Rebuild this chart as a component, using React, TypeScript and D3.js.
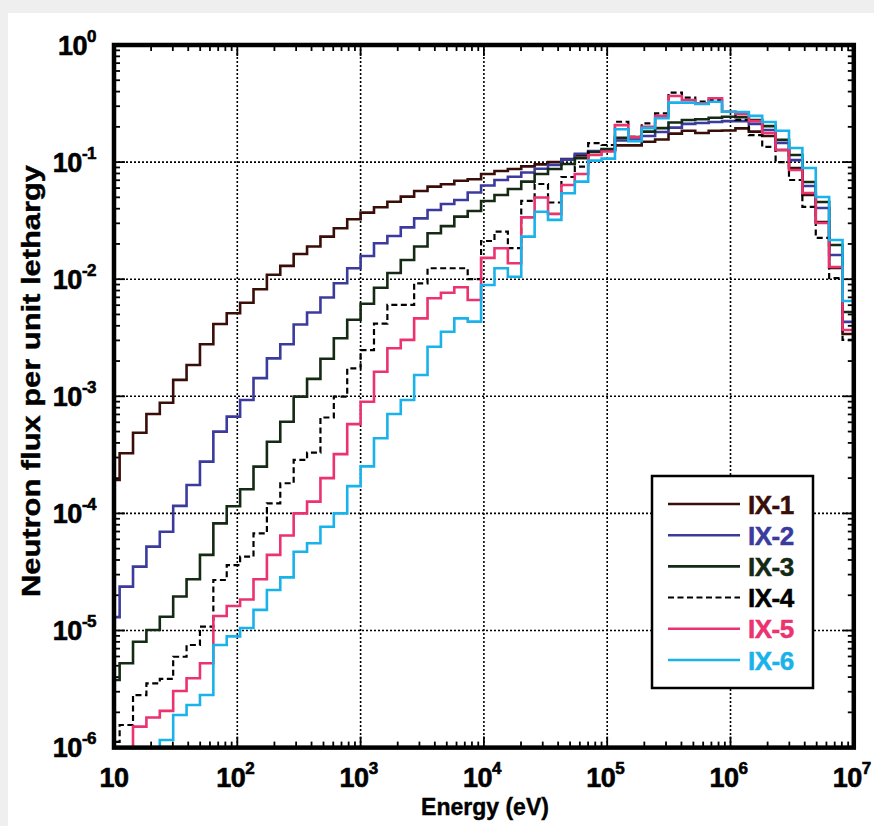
import React from 'react';
import * as d3 from 'd3';

// Energy group boundaries (eV), equal-lethargy bins
const EDGES = [8.652, 11.109, 14.264, 18.316, 23.518, 30.197, 38.774, 49.787, 63.928, 82.085, 105.40, 135.34, 173.77, 223.13, 286.50, 367.88, 472.37, 606.53, 778.80,
  1000, 1284.0, 1648.7, 2117.0, 2718.3, 3490.3, 4481.7, 5754.6, 7389.1, 9487.7,
  12182.5, 15642.6, 20085.5, 25790.3, 33115.5, 42521.1, 54598.2, 70105.4, 90017.1, 115584,
  148413, 190566, 244692, 314191, 403429, 518013, 665142, 854059, 1096633, 1408105,
  1808042, 2321572, 2980958, 3827626, 4914769, 6310688, 8103084, 10404566];

const IX1 = [1.93e-4, 3.26e-4, 4.89e-4, 7.06e-4, 8.81e-4, 1.38e-3, 1.85e-3, 2.78e-3, 4.14e-3, 5.12e-3, 6.30e-3, 8.20e-3, 1.09e-2, 1.30e-2, 1.64e-2, 1.90e-2, 2.31e-2, 2.72e-2, 3.25e-2,
  3.70e-2, 4.11e-2, 4.59e-2, 5.07e-2, 5.66e-2, 6.17e-2, 6.46e-2, 6.93e-2, 7.13e-2, 7.91e-2,
  8.39e-2, 8.73e-2, 9.20e-2, 9.57e-2, 0.100, 0.106, 0.114, 0.123, 0.127, 0.139,
  0.139, 0.149, 0.156, 0.175, 0.185, 0.177, 0.185, 0.186, 0.194, 0.182,
  0.167, 0.127, 8.91e-2, 5.24e-2, 3.08e-2, 1.25e-2, 3.40e-3];

const IX2 = [1.30e-5, 2.37e-5, 3.51e-5, 5.20e-5, 6.98e-5, 1.16e-4, 1.75e-4, 2.77e-4, 4.99e-4, 6.70e-4, 9.29e-4, 1.43e-3, 2.11e-3, 2.78e-3, 4.10e-3, 5.20e-3, 6.98e-3, 9.23e-3, 1.24e-2,
  1.58e-2, 2.03e-2, 2.34e-2, 2.77e-2, 3.31e-2, 3.90e-2, 4.39e-2, 4.74e-2, 5.50e-2, 6.31e-2,
  7.03e-2, 7.50e-2, 8.15e-2, 8.77e-2, 9.44e-2, 0.105, 0.118, 0.124, 0.127, 0.153,
  0.156, 0.167, 0.181, 0.197, 0.212, 0.216, 0.220, 0.224, 0.224, 0.212,
  0.188, 0.146, 0.104, 6.25e-2, 4.06e-2, 1.61e-2, 4.32e-3];

const IX3 = [3.78e-6, 5.25e-6, 8.02e-6, 1.01e-5, 1.31e-5, 1.95e-5, 2.74e-5, 4.42e-5, 8.22e-5, 1.15e-4, 1.61e-4, 2.51e-4, 4.09e-4, 6.07e-4, 9.93e-4, 1.41e-3, 2.09e-3, 3.13e-3, 4.51e-3,
  6.18e-3, 8.45e-3, 1.13e-2, 1.46e-2, 1.90e-2, 2.47e-2, 2.84e-2, 3.42e-2, 3.82e-2, 4.66e-2,
  5.24e-2, 5.89e-2, 6.81e-2, 7.91e-2, 8.73e-2, 9.64e-2, 0.108, 0.122, 0.129, 0.161,
  0.164, 0.182, 0.195, 0.218, 0.229, 0.232, 0.239, 0.244, 0.242, 0.229,
  0.203, 0.155, 0.115, 6.76e-2, 4.56e-2, 1.96e-2, 5.25e-3];

const IX4 = [1.12e-6, 1.56e-6, 2.81e-6, 3.54e-6, 3.86e-6, 5.97e-6, 7.52e-6, 1.08e-5, 2.70e-5, 3.62e-5, 4.27e-5, 6.76e-5, 1.22e-4, 1.81e-4, 2.86e-4, 3.31e-4, 6.59e-4, 9.93e-4, 1.73e-3,
  2.48e-3, 4.17e-3, 6.03e-3, 6.03e-3, 9.23e-3, 1.24e-2, 1.24e-2, 1.24e-2, 1.00e-2, 2.12e-2,
  2.55e-2, 1.84e-2, 4.66e-2, 6.50e-2, 4.52e-2, 7.46e-2, 9.14e-2, 0.145, 0.140, 0.221,
  0.164, 0.214, 0.261, 0.392, 0.356, 0.329, 0.339, 0.268, 0.229, 0.170,
  0.135, 0.100, 7.03e-2, 4.14e-2, 2.25e-2, 1.02e-2, 3.03e-3];

const IX5 = [7e-7, 7e-7, 1.51e-6, 1.81e-6, 2.06e-6, 3.04e-6, 3.91e-6, 5.25e-6, 1.33e-5, 1.62e-5, 1.84e-5, 2.74e-5, 4.42e-5, 6.47e-5, 1.00e-4, 1.26e-4, 2.00e-4, 3.21e-4, 5.79e-4,
  8.99e-4, 1.62e-3, 2.57e-3, 3.03e-3, 4.63e-3, 6.87e-3, 7.67e-3, 8.53e-3, 6.64e-3, 1.52e-2,
  1.84e-2, 1.37e-2, 3.37e-2, 4.99e-2, 3.61e-2, 6.37e-2, 7.91e-2, 0.115, 0.123, 0.207,
  0.163, 0.200, 0.248, 0.367, 0.339, 0.318, 0.351, 0.269, 0.258, 0.224,
  0.177, 0.127, 8.57e-2, 5.45e-2, 3.02e-2, 1.27e-2, 3.68e-3];

const IX6 = [7e-7, 7e-7, 7e-7, 7e-7, 1.16e-6, 1.90e-6, 2.31e-6, 2.81e-6, 7.52e-6, 8.91e-6, 1.05e-5, 1.50e-5, 2.22e-5, 2.84e-5, 4.71e-5, 5.56e-5, 7.69e-5, 1.00e-4, 1.71e-4,
  2.52e-4, 4.38e-4, 7.06e-4, 9.29e-4, 1.52e-3, 2.65e-3, 3.56e-3, 4.63e-3, 4.34e-3, 8.91e-3,
  1.24e-2, 1.05e-2, 2.31e-2, 3.77e-2, 3.21e-2, 5.42e-2, 6.81e-2, 0.103, 0.107, 0.191,
  0.151, 0.195, 0.237, 0.322, 0.322, 0.313, 0.328, 0.269, 0.268, 0.248,
  0.220, 0.185, 0.132, 8.91e-2, 5.03e-2, 2.16e-2, 6.52e-3];

const SERIES_NAMES = ['IX-1', 'IX-2', 'IX-3', 'IX-4', 'IX-5', 'IX-6'];
const SERIES_DATA = [IX1, IX2, IX3, IX4, IX5, IX6];
const SERIES_COLORS = ['#3a0e08', '#3b3b9e', '#142a14', '#000000', '#ea336f', '#19b2ea'];
const SERIES_DASH = [null, null, null, '6,3.5', null, null];

const X_EXPONENTS = [1, 2, 3, 4, 5, 6, 7];
const Y_EXPONENTS = [0, -1, -2, -3, -4, -5, -6];

const FONT = '"Liberation Sans", Arial, Helvetica, sans-serif';

export default function App() {
  const W = 874, H = 826;
  const x0 = 114, x1 = 853.8, y0 = 45, y1 = 747.6;
  const x = d3.scaleLog().domain([10, 1e7]).range([x0, x1]);
  const y = d3.scaleLog().domain([1e-6, 1]).range([y1, y0]);

  const line = d3.line<[number, number]>().x(d => x(d[0])).y(d => y(d[1]));
  const stepPath = (vals: number[]) => {
    const pts: [number, number][] = [];
    vals.forEach((v, i) => {
      pts.push([EDGES[i], v]);
      pts.push([EDGES[i + 1], v]);
    });
    return line(pts) || '';
  };

  const xMinor: number[] = [];
  for (let e = 1; e < 7; e++) for (let m = 2; m <= 9; m++) xMinor.push(m * Math.pow(10, e));
  const yMinor: number[] = [];
  for (let e = -6; e < 0; e++) for (let m = 2; m <= 9; m++) yMinor.push(m * Math.pow(10, e));

  const minorLen = 6, majorLen = 11;

  const legendX = 652, legendY = 476, legendW = 161, legendH = 212;
  const rowY = (i: number) => legendY + 28 + i * 31.2;

  const heavy = { stroke: '#000', strokeWidth: 0.6 } as const;

  return (
    <svg width={W} height={H} style={{ position: 'absolute', left: 0, top: 0 }} fontFamily={FONT}>
      <rect x={0} y={0} width={W} height={H} fill="#efefef" />
      <rect x={8} y={13} width={W - 8} height={H - 13} fill="#ffffff" />
      <defs>
        <clipPath id="plotClip">
          <rect x={x0} y={y0} width={x1 - x0} height={y1 - y0} />
        </clipPath>
      </defs>

      {/* grid */}
      <g stroke="#000" strokeWidth={1.6} strokeDasharray="2,2">
        {X_EXPONENTS.slice(1, -1).map(e => (
          <line key={'gx' + e} x1={x(Math.pow(10, e))} x2={x(Math.pow(10, e))} y1={y0} y2={y1} />
        ))}
        {Y_EXPONENTS.slice(1, -1).map(e => (
          <line key={'gy' + e} x1={x0} x2={x1} y1={y(Math.pow(10, e))} y2={y(Math.pow(10, e))} />
        ))}
      </g>

      {/* ticks */}
      <g stroke="#000" strokeWidth={1.8}>
        {xMinor.map((v, i) => (
          <g key={'xm' + i}>
            <line x1={x(v)} x2={x(v)} y1={y1} y2={y1 - minorLen} />
            <line x1={x(v)} x2={x(v)} y1={y0} y2={y0 + minorLen} />
          </g>
        ))}
        {X_EXPONENTS.map(e => (
          <g key={'xM' + e}>
            <line x1={x(Math.pow(10, e))} x2={x(Math.pow(10, e))} y1={y1} y2={y1 - majorLen} />
            <line x1={x(Math.pow(10, e))} x2={x(Math.pow(10, e))} y1={y0} y2={y0 + majorLen} />
          </g>
        ))}
        {yMinor.map((v, i) => (
          <g key={'ym' + i}>
            <line x1={x0} x2={x0 + minorLen} y1={y(v)} y2={y(v)} />
            <line x1={x1} x2={x1 - minorLen} y1={y(v)} y2={y(v)} />
          </g>
        ))}
        {Y_EXPONENTS.map(e => (
          <g key={'yM' + e}>
            <line x1={x0} x2={x0 + majorLen} y1={y(Math.pow(10, e))} y2={y(Math.pow(10, e))} />
            <line x1={x1} x2={x1 - majorLen} y1={y(Math.pow(10, e))} y2={y(Math.pow(10, e))} />
          </g>
        ))}
      </g>

      {/* series */}
      <g clipPath="url(#plotClip)" fill="none" strokeLinejoin="miter" strokeLinecap="butt">
        {SERIES_DATA.map((vals, i) => (
          <path key={SERIES_NAMES[i]} d={stepPath(vals)} stroke={SERIES_COLORS[i]}
            strokeWidth={i === 3 ? 2.2 : 2.6} strokeDasharray={SERIES_DASH[i] || undefined} />
        ))}
      </g>

      {/* frame */}
      <rect x={x0} y={y0} width={x1 - x0} height={y1 - y0} fill="none" stroke="#000" strokeWidth={4.5} />

      {/* y tick labels */}
      {Y_EXPONENTS.map(e => (
        <text key={'yl' + e} x={96} y={y(Math.pow(10, e)) + 9.5} textAnchor="end" fontWeight="bold" fontSize={27} fill="#000" letterSpacing={-0.5} {...heavy}>
          10<tspan fontSize={17} dy={-13}>{String(e)}</tspan>
        </text>
      ))}

      {/* x tick labels */}
      {X_EXPONENTS.map(e => (
        <text key={'xl' + e} x={x(Math.pow(10, e)) + (e === 1 ? 0 : -2)} y={787} textAnchor="middle" fontWeight="bold" fontSize={27} fill="#000" letterSpacing={-0.5} {...heavy}>
          10{e === 1 ? null : <tspan fontSize={17} dy={-13}>{String(e)}</tspan>}
        </text>
      ))}

      {/* axis titles */}
      <text x={485} y={815} textAnchor="middle" fontWeight="bold" fontSize={23} fill="#000" stroke="#000" strokeWidth={0.4}>Energy (eV)</text>
      <text transform="translate(40,381) rotate(-90)" textAnchor="middle" fontWeight="bold" fontSize={26} fill="#000"
        stroke="#000" strokeWidth={0.4} textLength={432} lengthAdjust="spacingAndGlyphs">Neutron flux per unit lethargy</text>

      {/* legend */}
      <rect x={legendX} y={legendY} width={legendW} height={legendH} fill="#fff" stroke="#000" strokeWidth={2.5} />
      {SERIES_NAMES.map((name, i) => (
        <g key={'lg' + name}>
          <line x1={668} x2={740} y1={rowY(i)} y2={rowY(i)} stroke={SERIES_COLORS[i]} strokeWidth={i === 3 ? 2 : 2.6}
            strokeDasharray={SERIES_DASH[i] || undefined} />
          <text x={748} y={rowY(i) + 9.5} fontWeight="bold" fontSize={26} fill={SERIES_COLORS[i]} stroke={SERIES_COLORS[i]} strokeWidth={0.5} letterSpacing={-0.5}>{name}</text>
        </g>
      ))}
    </svg>
  );
}
